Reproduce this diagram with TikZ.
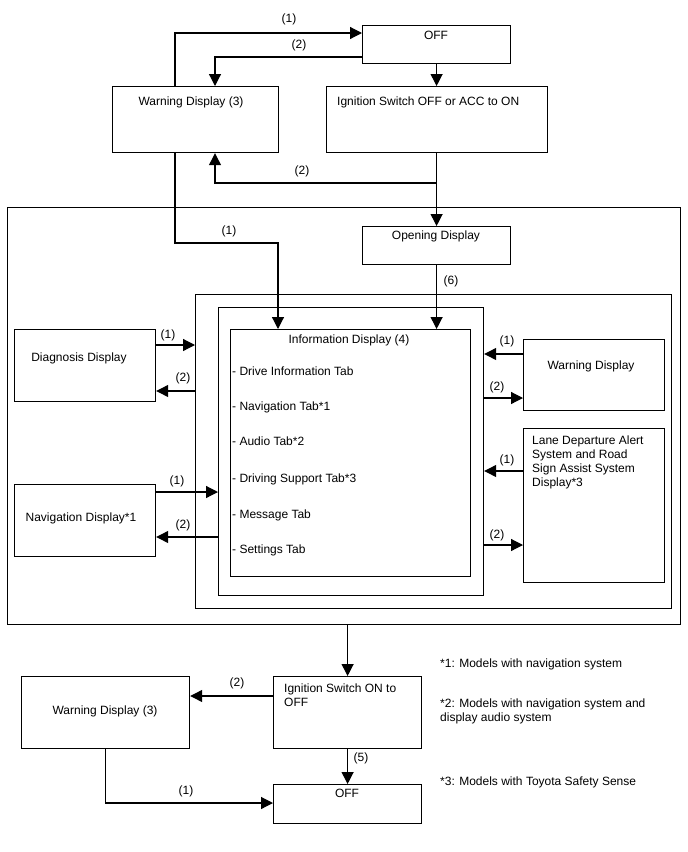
\documentclass[tikz,border=0pt]{standalone}
\usepackage{fontspec}
\setmainfont{Liberation Sans}
\usetikzlibrary{arrows.meta,positioning}

\begin{document}
\begin{tikzpicture}[
        x=1pt, y=-1pt,
        every node/.style={font=\fontsize{12}{14}\selectfont, inner sep=0pt},
        box/.style={draw, line width=1.2pt, anchor=north west},
        txt/.style={anchor=base},
        ltxt/.style={anchor=base west},
        arr/.style={-{Triangle[length=12pt,width=12pt]}, line width=1.2pt}
    ]
        \useasboundingbox (0,0) rectangle (688,852);

        % Top row
        \node[box, minimum width=148, minimum height=38] (offTop) at (362,25) {};
        \node[box, minimum width=166, minimum height=66] (warnTop) at (112,86) {};
        \node[box, minimum width=221, minimum height=66] (ignOn) at (326,86) {};
        \node[txt] (offTopText) at (436,39) {OFF};
        \node[txt] (warnTopText) at (191,105) {Warning Display (3)};
        \node[ltxt] (ignOnText) at (337,105) {Ignition Switch OFF or ACC to ON};

        % Frame and containers
        \node[box, minimum width=673, minimum height=417] (frame) at (7,207) {};
        \node[box, minimum width=148, minimum height=38] (opening) at (362,226) {};
        \node[txt] (openingText) at (436,239) {Opening Display};
        \node[box, minimum width=476, minimum height=314] (tabsOuter) at (195,294) {};
        \node[box, minimum width=265, minimum height=288] (tabsInner) at (218,307) {};
        \node[box, minimum width=240, minimum height=247] (info) at (230,329) {};
        \node[txt] (infoText) at (349,343) {Information Display (4)};
        \foreach \y/\t [count=\i] in {375/- Drive Information Tab, 410/- Navigation Tab*1,
                445/- Audio Tab*2, 482/ - Driving Support Tab*3, 518/- Message Tab, 553/- Settings Tab}
            \node[ltxt] (tab\i) at (232,\y) {\t};

        % Side displays
        \node[box, minimum width=141, minimum height=72] (diag) at (14,329) {};
        \node[txt] (diagText) at (79,361) {Diagnosis Display};
        \node[box, minimum width=141, minimum height=72] (navi) at (14,484) {};
        \node[txt] (naviText) at (81,521) {Navigation Display*1};
        \node[box, minimum width=141, minimum height=71] (warnRight) at (523,339) {};
        \node[txt] (warnRightText) at (591,369) {Warning Display};
        \node[box, minimum width=141, minimum height=154] (lane) at (523,428) {};
        \node[anchor=north west, align=left] (laneText) at (532,436)
            {Lane Departure Alert\\System and Road\\Sign Assist System\\Display*3};

        % Bottom row
        \node[box, minimum width=148, minimum height=72] (ignOff) at (273,676) {};
        \node[anchor=north west, align=left] (ignOffText) at (284,684) {Ignition Switch ON to\\OFF};
        \node[box, minimum width=168, minimum height=72] (warnBot) at (21,676) {};
        \node[txt] (warnBotText) at (105,714) {Warning Display (3)};
        \node[box, minimum width=148, minimum height=39] (offBot) at (273,784) {};
        \node[txt] (offBotText) at (347,797) {OFF};

        % Notes
        \node[ltxt] (note1) at (440,667) {*1: Models with navigation system};
        \node[anchor=north west, align=left] (note2) at (440,699)
            {*2: Models with navigation system and\\display audio system};
        \node[ltxt] (note3) at (440,785) {*3: Models with Toyota Safety Sense};

        % Arrows (top)
        \draw[arr] (175,0 |- warnTop.north) |- (offTop.west |- 0,33);
        \draw[arr] (offTop.west |- 0,57) -| (215,0 |- warnTop.north);
        \draw[arr] (offTop.south) -- (offTop.south |- ignOn.north);
        \draw[arr] (offTop.south |- ignOn.south) -- (opening.north);
        \draw[arr] (opening.north |- 0,183) -| (215,0 |- warnTop.south);
        \coordinate (bend) at (278,243);
        \draw[arr] (175,0 |- warnTop.south) |- (bend) -- (bend |- info.north);
        \draw[arr] (opening.south) -- (opening.south |- info.north);

        % Arrows (sides)
        \draw[arr] (diag.east |- 0,345) -- (tabsOuter.west |- 0,345);
        \draw[arr] (tabsOuter.west |- 0,391) -- (diag.east |- 0,391);
        \draw[arr] (navi.east |- 0,492) -- (tabsInner.west |- 0,492);
        \draw[arr] (tabsInner.west |- 0,537) -- (navi.east |- 0,537);
        \draw[arr] (warnRight.west |- 0,354) -- (tabsInner.east |- 0,354);
        \draw[arr] (tabsInner.east |- 0,398) -- (warnRight.west |- 0,398);
        \draw[arr] (lane.west |- 0,471) -- (tabsInner.east |- 0,471);
        \draw[arr] (tabsInner.east |- 0,545) -- (lane.west |- 0,545);

        % Arrows (bottom)
        \draw[arr] (ignOff.north |- frame.south) -- (ignOff.north);
        \draw[arr] (ignOff.west |- 0,696) -- (warnBot.east |- 0,696);
        \draw[arr] (ignOff.south) -- (offBot.north);
        \draw[arr] (warnBot.south) |- (offBot.west |- 0,803);

        % Labels
        \node (l1) at (289,19) {(1)};
        \node (l2) at (299,45) {(2)};
        \node (l3) at (302,171) {(2)};
        \node (l4) at (229,231) {(1)};
        \node (l5) at (451,281) {(6)};
        \node (l6) at (168,335) {(1)};
        \node (l7) at (183,378) {(2)};
        \node (l8) at (177,481) {(1)};
        \node (l9) at (183,525) {(2)};
        \node (l10) at (507,341) {(1)};
        \node (l11) at (497,387) {(2)};
        \node (l12) at (507,460) {(1)};
        \node (l13) at (497,535) {(2)};
        \node (l14) at (237,683) {(2)};
        \node (l15) at (361,758) {(5)};
        \node (l16) at (186,791) {(1)};
    \end{tikzpicture}
\end{document}
